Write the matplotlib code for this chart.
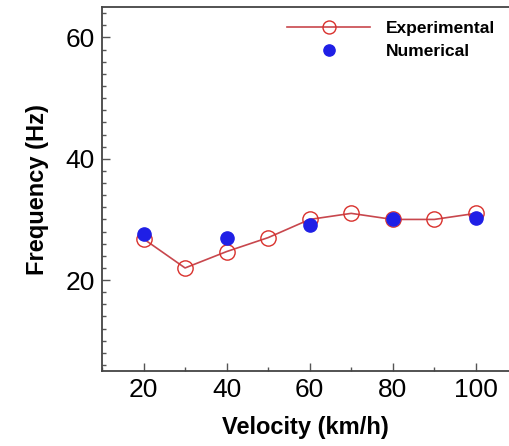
import matplotlib.pyplot as plt
from matplotlib.ticker import MultipleLocator

# data
vel_exp = [20, 30, 40, 50, 60, 70, 80, 90, 100]
freq_exp = [26.8, 22.0, 24.7, 27.0, 30.0, 31.0, 30.0, 30.0, 31.0]
vel_num = [20, 40, 60, 80, 100]
freq_num = [27.6, 27.0, 29.0, 30.0, 30.3]

plt.rcParams['font.family'] = ['Liberation Sans', 'DejaVu Sans']

fig = plt.figure(figsize=(5.09, 4.46), dpi=100)
ax = fig.add_axes([0.2004, 0.168, 0.7996, 0.816])

ax.plot(vel_exp, freq_exp, '-o', color='#c8474d', lw=1.2, ms=11,
        mfc='none', mec='#d9302c', mew=1.0, label='Experimental')
ax.plot(vel_num, freq_num, 'o', color='#1f1fe6', ms=9.5, ls='none',
        label='Numerical')

ax.set_xlim(10, 108)
ax.set_ylim(5, 65)
ax.xaxis.set_major_locator(MultipleLocator(20))
ax.xaxis.set_minor_locator(MultipleLocator(10))
ax.yaxis.set_major_locator(MultipleLocator(20))
ax.yaxis.set_minor_locator(MultipleLocator(2))
ax.tick_params(which='both', direction='in', labelsize=19, width=1.0,
               color='#555555')
ax.tick_params(which='major', length=6, pad=5)
ax.tick_params(which='minor', length=3)
ax.spines['right'].set_visible(False)
for s in ['left', 'bottom', 'top']:
    ax.spines[s].set_color('#444444')
    ax.spines[s].set_linewidth(1.3)

ax.set_xlabel('Velocity (km/h)', fontsize=17, fontweight='bold', labelpad=10)
ax.set_ylabel('Frequency (Hz)', fontsize=17, fontweight='bold', labelpad=12)

ax.legend(loc='upper right', bbox_to_anchor=(1.0, 1.0), frameon=False,
          prop={'weight': 'bold', 'size': 12.5}, handlelength=4.8,
          handletextpad=0.9, labelspacing=0.45, borderaxespad=0.4,
          markerscale=0.85)

fig.savefig('out.png', dpi=100)
